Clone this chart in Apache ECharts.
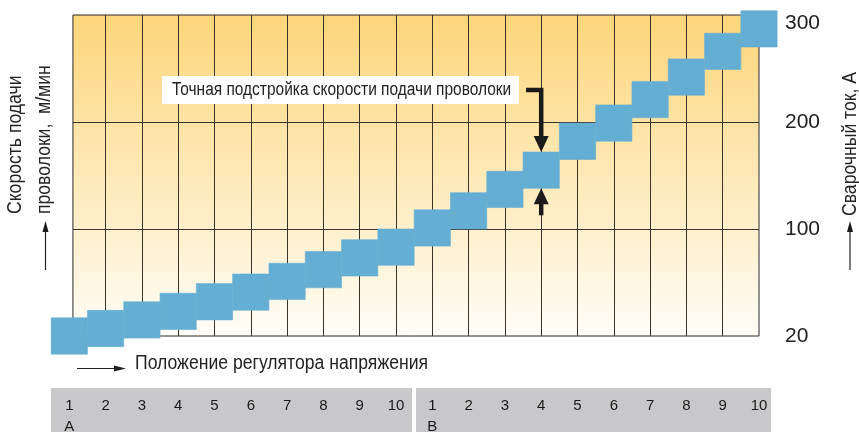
<!DOCTYPE html>
<html>
<head>
<meta charset="utf-8">
<script src="https://cdn.jsdelivr.net/npm/echarts@6/dist/echarts.min.js"></script>
<style>
    html, body { margin: 0; padding: 0; background: #fff; }
    #chart { width: 859px; height: 432px; }
</style>
</head>
<body>
<div id="chart"></div>
<script>
    // положения регулятора (индекс ступени) и подписи под осью
    let positions = [0, 1, 2, 3, 4, 5, 6, 7, 8, 9, 10, 11, 12, 13, 14, 15, 16, 17, 18, 19];
    let posLabels = ['1', '2', '3', '4', '5', '6', '7', '8', '9', '10', '1', '2', '3', '4', '5', '6', '7', '8', '9', '10'];
    let groupLabels = {0: 'A', 10: 'B'};
    // уровень ступени по оси тока (0 = 20 А, 1 = 100 А, 2 = 200 А, 3 = 300 А)
    let stepLevels = [0.00, 0.07, 0.15, 0.23, 0.32, 0.41, 0.51, 0.62, 0.73, 0.83,
                      1.01, 1.17, 1.37, 1.55, 1.82, 1.99, 2.21, 2.42, 2.66, 2.87];
    let currentLabels = ['20', '100', '200', '300'];
    let gridX = [1, 2, 3, 4, 5, 6, 7, 8, 9, 10, 11, 12, 13, 14, 15, 16, 17, 18];
    let gridY = [1, 2];
    let markedStep = 13;

    let sans = "'Liberation Sans', Arial, sans-serif";
    let dom = document.getElementById('chart');
    let myChart = echarts.init(dom);

    let squares = positions.map((p, i) => [p, stepLevels[i]]);

    myChart.setOption({
        animation: false,
        grid: {
            left: 69.3,
            right: 100,
            top: 15,
            bottom: 96,
            outerBoundsMode: 'none'
        },
        xAxis: {
            type: 'value',
            min: 0,
            max: 19,
            interval: 1,
            axisLine: { show: false },
            axisTick: { show: false },
            splitLine: { show: false },
            axisLabel: {
                margin: 59,
                fontSize: 15,
                lineHeight: 21,
                color: '#1a1a1a',
                fontFamily: sans,
                formatter: function (v) {
                    let s = posLabels[v];
                    if (groupLabels[v]) s += '\n' + groupLabels[v];
                    return s;
                }
            }
        },
        yAxis: {
            type: 'value',
            position: 'right',
            min: 0,
            max: 3,
            interval: 1,
            axisLine: { show: false },
            axisTick: { show: false },
            splitLine: { show: false },
            axisLabel: {
                margin: 26,
                fontSize: 21,
                color: '#222',
                fontFamily: sans,
                formatter: function (v) {
                    if (v === 3) return '{t|' + currentLabels[v] + '}';
                    return currentLabels[v];
                },
                rich: {
                    t: { fontSize: 21, color: '#222', fontFamily: sans, padding: [16, 0, 0, 0] }
                }
            }
        },
        series: [
            {
                // фон поля и сетка
                type: 'line',
                z: 1,
                silent: true,
                symbol: 'none',
                data: [[0, 0]],
                lineStyle: { opacity: 0 },
                markArea: {
                    silent: true,
                    z: 1,
                    itemStyle: {
                        color: new echarts.graphic.LinearGradient(0, 0, 0, 1, [
                            { offset: 0, color: '#FDD57A' },
                            { offset: 0.34, color: '#FDE3A4' },
                            { offset: 0.67, color: '#FEF0CD' },
                            { offset: 1, color: '#FFFDF8' }
                        ]),
                        borderColor: '#2a2a2a',
                        borderWidth: 1
                    },
                    data: [[{ coord: [0.1, 0] }, { coord: [19, 3] }]]
                },
                markLine: {
                    silent: true,
                    z: 2,
                    symbol: 'none',
                    label: { show: false },
                    lineStyle: { type: 'solid', color: '#3a3328', width: 1 },
                    data: gridX.map(x => [{ coord: [x, 0] }, { coord: [x, 3] }])
                        .concat(gridY.map(y => [{ coord: [0.1, y] }, { coord: [19, y] }]))
                }
            },
            {
                type: 'custom',
                z: 10,
                data: squares,
                renderItem: function (params, api) {
                    let c = api.coord([api.value(0), api.value(1)]);
                    let side = api.size([1, 0])[0];
                    return {
                        type: 'rect',
                        shape: { x: c[0] - side / 2, y: c[1] - side / 2, width: side, height: side },
                        style: { fill: '#65AED3', stroke: '#65AED3', lineWidth: 0.6 }
                    };
                }
            }
        ]
    });

    // стрелки к отмеченной ступени
    let mc = myChart.convertToPixel({ gridIndex: 0 }, [positions[markedStep], stepLevels[markedStep]]);
    let half = (myChart.convertToPixel({ gridIndex: 0 }, [1, 0])[0] - myChart.convertToPixel({ gridIndex: 0 }, [0, 0])[0]) / 2;
    let stepTop = mc[1] - half, stepBot = mc[1] + half, ax = mc[0];

    function arrowHead(x, y, dir, w, l) {
        return {
            type: 'polygon',
            shape: { points: [[x, y], [x - w / 2, y - dir * l], [x + w / 2, y - dir * l]] },
            style: { fill: '#1a1a1a' },
            z: 20
        };
    }

    // узкий шрифт имитируется сжатием по ширине
    function label(text, x, y, size, rot, squeeze) {
        return {
            type: 'text', z: 16, x: x, y: y, rotation: rot, scaleX: squeeze,
            style: { text: text, font: size + 'px ' + sans, fill: '#222', align: 'left', verticalAlign: 'middle' }
        };
    }

    myChart.setOption({
        graphic: [
            { type: 'rect', z: -5, shape: { x: 51, y: 388, width: 361, height: 44 }, style: { fill: '#C8C8CA' } },
            { type: 'rect', z: -5, shape: { x: 416, y: 388, width: 355, height: 44 }, style: { fill: '#C8C8CA' } },

            // подпись-примечание
            { type: 'rect', z: 15, shape: { x: 162, y: 76, width: 357, height: 28 }, style: { fill: '#fff' } },
            label('Точная подстройка скорости подачи проволоки', 172, 90, 18, 0, 0.86),
            { type: 'polyline', z: 20, shape: { points: [[526, 90], [ax, 90], [ax, stepTop - 14]] }, style: { stroke: '#1a1a1a', lineWidth: 4.5, fill: null } },
            arrowHead(ax, stepTop, 1, 15, 16),
            { type: 'line', z: 20, shape: { x1: ax, y1: stepBot + 14, x2: ax, y2: stepBot + 27 }, style: { stroke: '#1a1a1a', lineWidth: 4.5 } },
            arrowHead(ax, stepBot, -1, 15, 16),

            // подписи осей
            label('Скорость подачи', 15, 214, 20, Math.PI / 2, 0.88),
            label('проволоки,  м/мин', 44, 214, 20, Math.PI / 2, 0.88),
            { type: 'line', shape: { x1: 45.5, y1: 270, x2: 45.5, y2: 230 }, style: { stroke: '#222', lineWidth: 1.2 } },
            arrowHead(45.5, 221, -1, 6, 11),

            label('Сварочный ток, А', 850, 216, 20, Math.PI / 2, 0.88),
            { type: 'line', shape: { x1: 850, y1: 270, x2: 850, y2: 230 }, style: { stroke: '#222', lineWidth: 1.2 } },
            arrowHead(850, 221, -1, 6, 11),

            { type: 'line', shape: { x1: 77, y1: 368.5, x2: 116, y2: 368.5 }, style: { stroke: '#222', lineWidth: 1.2 } },
            {
                type: 'polygon',
                shape: { points: [[126, 368.5], [114, 365.5], [114, 371.5]] },
                style: { fill: '#222' }
            },
            label('Положение регулятора напряжения', 135, 363, 20, 0, 0.88)
        ]
    });
</script>
</body>
</html>
